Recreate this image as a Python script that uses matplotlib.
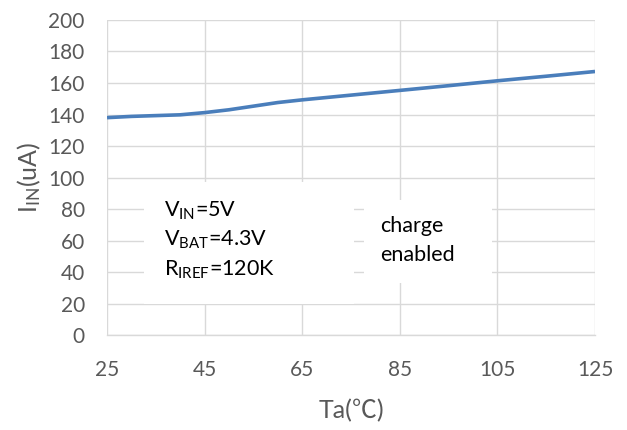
import matplotlib
matplotlib.use('Agg')
import matplotlib.pyplot as plt
from matplotlib.patches import Rectangle

# 数据：温度 (℃) 与输入电流 (uA)
temps = [25, 30, 35, 40, 45, 50, 55, 60, 65, 75, 85, 95, 105, 115, 125]
iin = [138.0, 138.8, 139.3, 139.8, 141.2, 143.0, 145.3, 147.6, 149.3,
       152.3, 155.3, 158.3, 161.4, 164.3, 167.3]
x_ticks = [25, 45, 65, 85, 105, 125]
y_ticks = list(range(0, 201, 20))
cond_lines = [r'V$_{\mathrm{IN}}$=5V', r'V$_{\mathrm{BAT}}$=4.3V', r'R$_{\mathrm{IREF}}$=120K']
note_lines = ['charge', 'enabled']

plt.rcParams['font.family'] = ['Lato', 'Noto Sans CJK SC', 'DejaVu Sans']
plt.rcParams['mathtext.fontset'] = 'custom'
plt.rcParams['mathtext.rm'] = 'Lato'
plt.rcParams['mathtext.it'] = 'Lato'

gray_txt = '#595959'
grid_c = '#D9D9D9'

fig = plt.figure(figsize=(6.27, 4.30), dpi=100)
ax = fig.add_axes([0.1707, 0.2209, 0.7783, 0.7326])

ax.set_xlim(25, 125)
ax.set_ylim(0, 200)
ax.set_xticks(x_ticks)
ax.set_yticks(y_ticks)
ax.grid(True, color=grid_c, linewidth=1.0, zorder=0)
ax.set_axisbelow(True)
for s in ['top', 'right', 'left']:
    ax.spines[s].set_visible(False)
ax.spines['bottom'].set_color(grid_c)
ax.spines['bottom'].set_linewidth(1.0)
ax.tick_params(length=0, labelsize=15, labelcolor=gray_txt)
ax.tick_params(axis='x', pad=18)
ax.tick_params(axis='y', pad=16)

# 白色文本框（遮住网格）
ax.add_patch(Rectangle((32.6, 19.5), 43.0, 77.5, facecolor='white',
                       edgecolor='none', zorder=1))
ax.add_patch(Rectangle((77.7, 33.0), 26.2, 52.7, facecolor='white',
                       edgecolor='none', zorder=1))

ax.plot(temps, iin, color='#4A7EBB', linewidth=2.6, zorder=3,
        solid_capstyle='butt')

for i, t in enumerate(cond_lines):
    ax.text(36.7, 79 - i * 18.8, t, fontsize=15.5, color='black',
            va='center', ha='left', zorder=4)
for i, t in enumerate(note_lines):
    ax.text(81.0, 69.5 - i * 18.8, t, fontsize=15.5, color='black',
            va='center', ha='left', zorder=4)

ax.set_ylabel(r'I$_{\mathrm{IN}}$(uA)', fontsize=18, color=gray_txt, labelpad=4)
ax.set_xlabel('Ta(℃)', fontsize=18, color=gray_txt, labelpad=14)

fig.savefig('out.png', dpi=100)
